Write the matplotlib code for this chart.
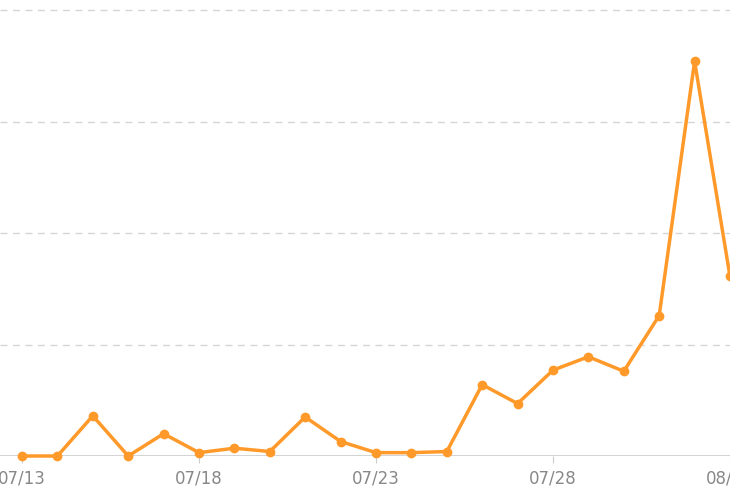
import numpy as np
import matplotlib.pyplot as plt

# daily values, 07/13 .. 08/02
dates = ['07/13', '07/14', '07/15', '07/16', '07/17', '07/18', '07/19',
         '07/20', '07/21', '07/22', '07/23', '07/24', '07/25', '07/26',
         '07/27', '07/28', '07/29', '07/30', '07/31', '08/01', '08/02']
values = [0, 0, 36, 0, 20, 3, 7, 4, 35, 13, 3, 3, 4, 64, 47, 77, 89, 76,
          126, 354, 161]
tick_labels = ['07/13', '07/18', '07/23', '07/28', '08/02']
grid_levels = [100, 200, 300, 400]

x = np.arange(len(dates))

fig = plt.figure(figsize=(7.3, 5.04), dpi=100)
ax = fig.add_axes([0, 48 / 504, 1, 456 / 504])

ax.plot(x, values, color='#ff9a2a', lw=2.5, marker='o', ms=6,
        markeredgecolor='#ff9a2a', clip_on=False, zorder=3)

ax.set_xlim(-22 / 35.4, len(dates) - 1)
ax.set_ylim(0, 409)

for g in grid_levels:
    ax.axhline(g, color='#d6d6d6', lw=1, ls=(0, (5, 4)), zorder=1)
ax.axhline(0, color='#cccccc', lw=1.2, zorder=2)

ax.set_xticks([dates.index(t) for t in tick_labels])
ax.set_xticklabels(tick_labels, color='#888888', fontsize=12)
ax.tick_params(axis='x', length=5, color='#cccccc', pad=5)
ax.set_yticks([])
for s in ax.spines.values():
    s.set_visible(False)

fig.savefig('out.png', dpi=100)
